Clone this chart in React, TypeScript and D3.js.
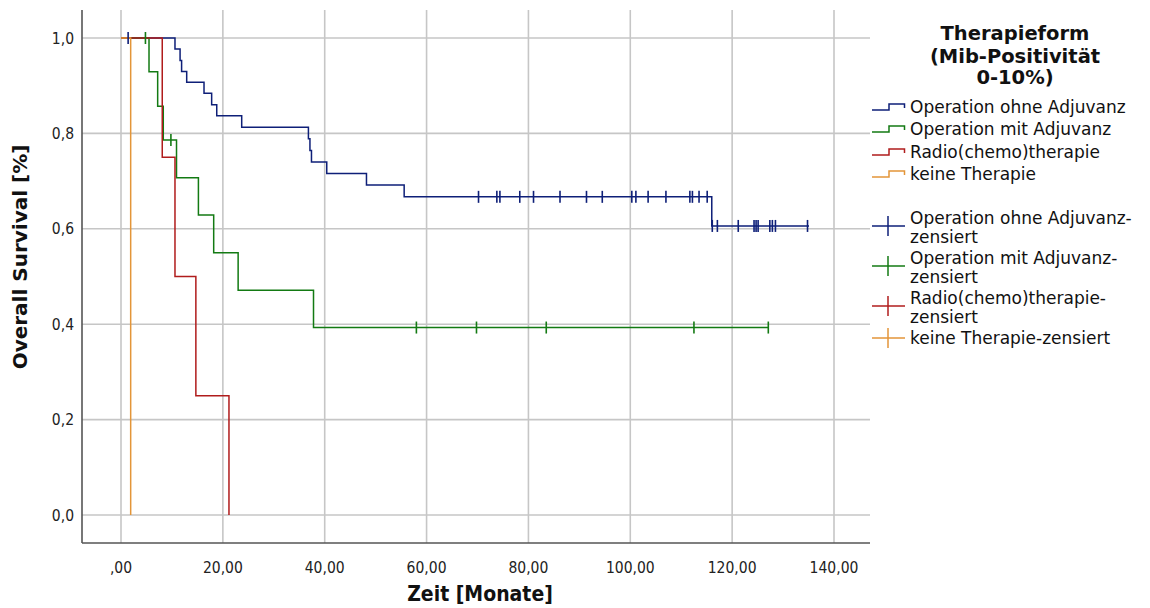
import React from 'react';
import * as d3 from 'd3';

// ---------- data ----------
const xTicks = [0, 20, 40, 60, 80, 100, 120, 140];
const xTickLabels = [',00', '20,00', '40,00', '60,00', '80,00', '100,00', '120,00', '140,00'];
const yTicks = [0, 0.2, 0.4, 0.6, 0.8, 1.0];
const yTickLabels = ['0,0', '0,2', '0,4', '0,6', '0,8', '1,0'];

const seriesNames = ['Operation ohne Adjuvanz', 'Operation mit Adjuvanz', 'Radio(chemo)therapie', 'keine Therapie'];
const seriesColors = ['#0e1f78', '#137a13', '#b01c1c', '#e39538'];

// Operation ohne Adjuvanz
const opOhneTimes = [10.6, 11.6, 11.9, 12.9, 16.3, 17.8, 18.8, 23.7, 36.8, 37.1, 37.4, 40.4, 48.2, 55.6, 116.0];
const opOhneSurv = [0.977, 0.953, 0.930, 0.907, 0.884, 0.860, 0.837, 0.813, 0.789, 0.764, 0.740, 0.716, 0.692, 0.667, 0.606];
const opOhneEnd = 135.1;
const opOhneCensored = [1.4, 70.2, 73.8, 74.4, 78.3, 81.0, 86.2, 91.4, 94.5, 100.3, 101.1, 103.5, 107.0, 111.7, 112.2, 113.5, 115.1, 116.1, 117.1, 121.2, 124.3, 124.7, 125.1, 127.4, 127.9, 128.5, 134.8];

// Operation mit Adjuvanz
const opMitTimes = [5.5, 7.2, 8.3, 10.9, 15.2, 18.2, 23.0, 37.8];
const opMitSurv = [0.929, 0.857, 0.786, 0.707, 0.629, 0.550, 0.471, 0.393];
const opMitEnd = 127.1;
const opMitCensored = [4.8, 9.8, 58.0, 69.8, 83.5, 112.5, 127.1];

// Radio(chemo)therapie
const radioTimes = [8.1, 10.6, 14.7, 21.2];
const radioSurv = [0.75, 0.5, 0.25, 0.0];
const radioEnd = 21.2;
const radioCensored: number[] = [];

// keine Therapie
const keineTimes = [1.9];
const keineSurv = [0.0];
const keineEnd = 1.9;
const keineCensored: number[] = [];

const allTimes = [opOhneTimes, opMitTimes, radioTimes, keineTimes];
const allSurv = [opOhneSurv, opMitSurv, radioSurv, keineSurv];
const allEnds = [opOhneEnd, opMitEnd, radioEnd, keineEnd];
const allCensored = [opOhneCensored, opMitCensored, radioCensored, keineCensored];

// ---------- layout ----------
const W = 1150, H = 608;
const plotLeft = 82, plotRight = 870, plotTop = 10, plotBottom = 543;

const x = d3.scaleLinear().domain([0, 140]).range([121, 834]);
const y = d3.scaleLinear().domain([0, 1]).range([515, 38]);

const condensed = "'DejaVu Sans Condensed', 'Liberation Sans Narrow', 'DejaVu Sans', sans-serif";
const normal = "'DejaVu Sans', sans-serif";

function survAt(times: number[], surv: number[], t: number) {
  let s = 1;
  for (let i = 0; i < times.length; i++) if (times[i] <= t) s = surv[i];
  return s;
}

const stepLine = d3.line<[number, number]>()
  .x(d => x(d[0]))
  .y(d => y(d[1]))
  .curve(d3.curveStepAfter);

export default function App() {
  const paths = allTimes.map((times, i) => {
    const pts: [number, number][] = [[0, 1]];
    times.forEach((t, j) => pts.push([t, allSurv[i][j]]));
    const last = pts[pts.length - 1];
    if (allEnds[i] > last[0]) pts.push([allEnds[i], last[1]]);
    return stepLine(pts) as string;
  });

  const legendStepY = [107, 129, 152, 174];
  const legendCensor = [
    { lines: ['Operation ohne Adjuvanz-', 'zensiert'], y: 218, my: 226 },
    { lines: ['Operation mit Adjuvanz-', 'zensiert'], y: 258, my: 266 },
    { lines: ['Radio(chemo)therapie-', 'zensiert'], y: 298, my: 306 },
    { lines: ['keine Therapie-zensiert'], y: 338, my: 338 },
  ];

  return (
    <svg width={W} height={H} style={{ position: 'absolute', left: 0, top: 0, background: '#fff' }}>
      <rect x={0} y={0} width={W} height={H} fill="#fff" />
      {/* grid */}
      {xTicks.map(t => (
        <line key={'gx' + t} x1={x(t)} x2={x(t)} y1={plotTop} y2={plotBottom} stroke="#c6c6c6" strokeWidth={1.6} />
      ))}
      {yTicks.map(t => (
        <line key={'gy' + t} x1={plotLeft} x2={plotRight} y1={y(t)} y2={y(t)} stroke="#c6c6c6" strokeWidth={1.6} />
      ))}
      {/* axes */}
      <line x1={plotLeft} x2={plotLeft} y1={plotTop} y2={plotBottom} stroke="#555" strokeWidth={1.6} />
      <line x1={plotLeft} x2={plotRight} y1={plotBottom} y2={plotBottom} stroke="#555" strokeWidth={1.6} />
      {/* tick labels */}
      {xTicks.map((t, i) => (
        <text key={'tx' + t} x={x(t)} y={573} textAnchor="middle" fontFamily={condensed} fontSize={15.5} fill="#222">{xTickLabels[i]}</text>
      ))}
      {yTicks.map((t, i) => (
        <text key={'ty' + t} x={74} y={y(t) + 5.5} textAnchor="end" fontFamily={condensed} fontSize={15.5} fill="#222">{yTickLabels[i]}</text>
      ))}
      {/* axis titles */}
      <text x={480} y={601} textAnchor="middle" fontFamily={condensed} fontWeight="bold" fontSize={21} fill="#111">Zeit [Monate]</text>
      <text transform={`translate(27,${257}) rotate(-90)`} textAnchor="middle" fontFamily={normal} fontWeight="bold" fontSize={20} fill="#111">Overall Survival [%]</text>
      {/* curves */}
      {paths.map((d, i) => (
        <path key={'p' + i} d={d} fill="none" stroke={seriesColors[i]} strokeWidth={1.5} />
      ))}
      {/* censor marks */}
      {allCensored.map((cs, i) => cs.map((t, j) => {
        const yy = y(survAt(allTimes[i], allSurv[i], t));
        return <line key={'c' + i + '_' + j} x1={x(t)} x2={x(t)} y1={yy - 6} y2={yy + 6} stroke={seriesColors[i]} strokeWidth={1.6} />;
      }))}
      {/* legend */}
      <g fontFamily={normal} fill="#111">
        <text x={1015} y={40} textAnchor="middle" fontWeight="bold" fontSize={19.5}>Therapieform</text>
        <text x={1015} y={63} textAnchor="middle" fontWeight="bold" fontSize={19.5}>(Mib-Positivität</text>
        <text x={1015} y={84} textAnchor="middle" fontWeight="bold" fontSize={19.5}>0-10%)</text>
        {seriesNames.map((n, i) => {
          const cy = legendStepY[i];
          return (
            <g key={'ls' + i}>
              <path d={`M872,${cy + 3}H889V${cy - 3}H904.5V${cy + 1}`} fill="none" stroke={seriesColors[i]} strokeWidth={1.5} />
              <text x={910} y={cy + 6} fontSize={17}>{n}</text>
            </g>
          );
        })}
        {legendCensor.map((e, i) => (
          <g key={'lc' + i}>
            <line x1={872} x2={905} y1={e.my} y2={e.my} stroke={seriesColors[i]} strokeWidth={1.5} />
            <line x1={888} x2={888} y1={e.my - 10} y2={e.my + 10} stroke={seriesColors[i]} strokeWidth={1.5} />
            {e.lines.map((l, k) => (
              <text key={k} x={910} y={e.y + 6 + k * 19} fontSize={17}>{l}</text>
            ))}
          </g>
        ))}
      </g>
    </svg>
  );
}
